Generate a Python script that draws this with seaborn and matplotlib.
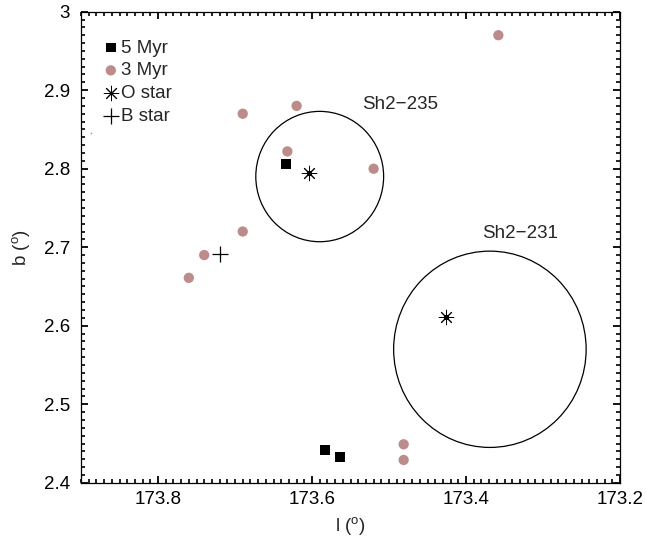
import numpy as np
import pandas as pd
import matplotlib
matplotlib.use("Agg")
import matplotlib.pyplot as plt
from matplotlib.patches import Circle
from matplotlib.ticker import MultipleLocator
import seaborn as sns

# dane
l_5myr = [173.634, 173.583, 173.564]
b_5myr = [2.806, 2.442, 2.433]

l_3myr = [173.690, 173.620, 173.632, 173.520, 173.690, 173.740, 173.760, 173.358, 173.481, 173.481]
b_3myr = [2.870, 2.880, 2.822, 2.800, 2.720, 2.690, 2.661, 2.970, 2.449, 2.429]

l_ostar = [173.604, 173.426]
b_ostar = [2.794, 2.611]

l_bstar = [173.720]
b_bstar = [2.691]

# obszary HII: nazwa, l, b, promień
regions = ["Sh2\u2212235", "Sh2\u2212231"]
reg_l = [173.590, 173.369]
reg_b = [2.790, 2.570]
reg_r = [0.083, 0.125]
lab_l = [173.486, 173.330]
lab_b = [2.882, 2.718]

sns.set_theme(style="white")
plt.rcParams.update({
    'font.family': ['Liberation Sans', 'DejaVu Sans'],
    'mathtext.fontset': 'custom',
    'mathtext.rm': 'Liberation Sans',
    'axes.axisbelow': False,
    'xtick.direction': 'in', 'ytick.direction': 'in',
    'xtick.top': True, 'ytick.right': True,
    'xtick.bottom': True, 'ytick.left': True,
    'xtick.major.size': 5, 'ytick.major.size': 5,
    'xtick.minor.size': 2.6, 'ytick.minor.size': 2.6,
    'xtick.major.width': 1.3, 'ytick.major.width': 1.3,
    'xtick.minor.width': 1.2, 'ytick.minor.width': 1.2,
    'xtick.major.pad': 6, 'ytick.major.pad': 8,
    'xtick.color': 'black', 'ytick.color': 'black',
    'xtick.minor.visible': True, 'ytick.minor.visible': True,
})

fig = plt.figure(figsize=(6.46, 5.4), dpi=100)
ax = fig.add_axes([0.1254, 0.106, 0.8344, 0.8724])

ax.scatter([173.887], [2.845], s=1.5, color='#00e0e0', linewidths=0)

sns.scatterplot(x=l_5myr, y=b_5myr, ax=ax, marker='s', s=48, color='black',
                edgecolor='none', label='5 Myr', zorder=3)
sns.scatterplot(x=l_3myr, y=b_3myr, ax=ax, marker='o', s=55, color='#bc8c8a',
                edgecolor='none', label='3 Myr', zorder=2)
sns.scatterplot(x=l_ostar, y=b_ostar, ax=ax, marker=(8, 2, 0), s=110, color='black',
                linewidth=0.7, label='O star', zorder=4)
ax.scatter(l_ostar, b_ostar, s=8, color='black', zorder=4)
sns.scatterplot(x=l_bstar, y=b_bstar, ax=ax, marker='+', s=120, color='black',
                linewidth=0.9, label='B star', zorder=4)

for name, cl, cb, r, tl, tb in zip(regions, reg_l, reg_b, reg_r, lab_l, lab_b):
    ax.add_patch(Circle((cl, cb), r, fill=False, edgecolor='black', linewidth=0.9))
    ax.text(tl, tb, name, fontsize=13.5, ha='center', va='center')

ax.set_xlim(173.9, 173.2)
ax.set_ylim(2.4, 3.0)
ax.xaxis.set_major_locator(MultipleLocator(0.2))
ax.xaxis.set_minor_locator(MultipleLocator(0.01))
ax.yaxis.set_major_locator(MultipleLocator(0.1))
ax.yaxis.set_minor_locator(MultipleLocator(0.01))
ax.xaxis.set_major_formatter(plt.FuncFormatter(lambda v, p: f'{v:.1f}'))
ax.yaxis.set_major_formatter(plt.FuncFormatter(lambda v, p: f'{v:g}'))
ax.tick_params(which='major', labelsize=13.5, labelcolor='black')
for sp in ax.spines.values():
    sp.set_linewidth(0.9)
    sp.set_color('black')

ax.set_xlabel(r'l ($^{\rm o}$)', fontsize=13.5, labelpad=5)
ax.set_ylabel(r'b ($^{\rm o}$)', fontsize=13.5, labelpad=8)

ax.legend(loc='upper left', bbox_to_anchor=(0.024, 0.957), frameon=False, fontsize=13.5,
          handletextpad=0.05, labelspacing=0.3, handlelength=1.0, borderaxespad=0)

fig.savefig('out.png', dpi=100)
